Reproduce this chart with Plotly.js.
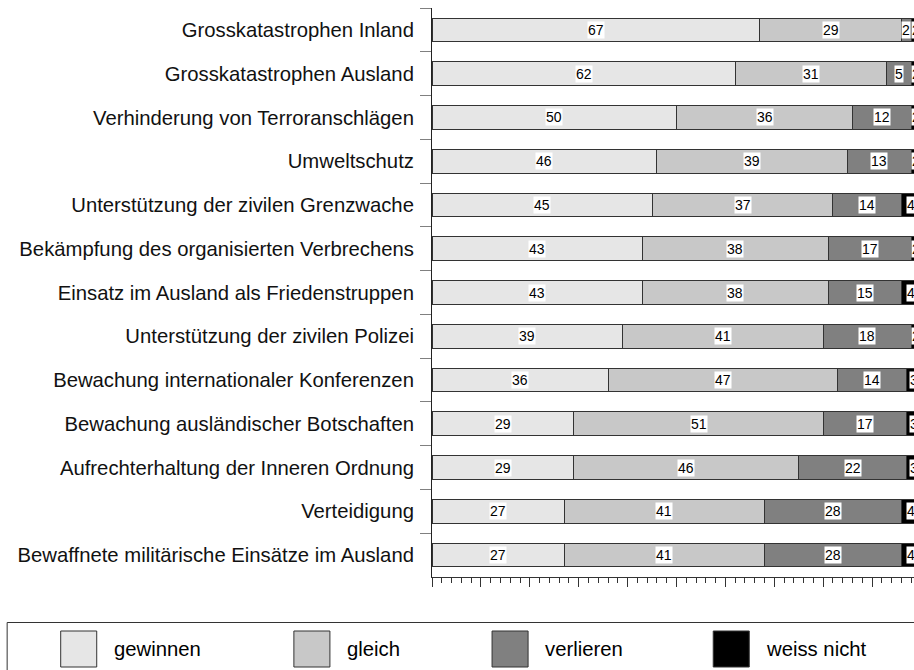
<!DOCTYPE html>
<html>
<head>
<meta charset="utf-8">
<script src="https://cdn.plot.ly/plotly-3.0.1.min.js"></script>
<style>
html, body { margin: 0; padding: 0; overflow: hidden; background: #fff; }
#chart { width: 940px; height: 700px; }
</style>
</head>
<body>
<div id="chart"></div>
<script>
const categories = [
  "Grosskatastrophen Inland",
  "Grosskatastrophen Ausland",
  "Verhinderung von Terroranschlägen",
  "Umweltschutz",
  "Unterstützung der zivilen Grenzwache",
  "Bekämpfung des organisierten Verbrechens",
  "Einsatz im Ausland als Friedenstruppen",
  "Unterstützung der zivilen Polizei",
  "Bewachung internationaler Konferenzen",
  "Bewachung ausländischer Botschaften",
  "Aufrechterhaltung der Inneren Ordnung",
  "Verteidigung",
  "Bewaffnete militärische Einsätze im Ausland"
];
const seriesNames = ["gewinnen", "gleich", "verlieren", "weiss nicht"];
const gewinnen   = [67, 62, 50, 46, 45, 43, 43, 39, 36, 29, 29, 27, 27];
const gleich     = [29, 31, 36, 39, 37, 38, 38, 41, 47, 51, 46, 41, 41];
const verlieren  = [ 2,  5, 12, 13, 14, 17, 15, 18, 14, 17, 22, 28, 28];
const weissNicht = [ 2,  2,  2,  2,  4,  2,  4,  2,  3,  3,  3,  4,  4];
const colors = ["#e6e6e6", "#c8c8c8", "#808080", "#000000"];

const series = [gewinnen, gleich, verlieren, weissNicht];
const FONT = "Liberation Sans, Arial, sans-serif";

const traces = series.map((vals, i) => ({
  type: "bar",
  orientation: "h",
  name: seriesNames[i],
  y: categories,
  x: vals,
  marker: { color: colors[i], line: { color: "#333333", width: 1 } },
  hoverinfo: "skip",
  showlegend: false
}));

// value labels with white background, centred in each segment
const annotations = [];
categories.forEach((cat, r) => {
  let start = 0;
  series.forEach((vals) => {
    const v = vals[r];
    annotations.push({
      x: start + v / 2, y: cat, xref: "x", yref: "y",
      text: String(v), showarrow: false,
      bgcolor: "#ffffff", borderpad: 0,
      font: { family: FONT, size: 14, color: "#000" }
    });
    start += v;
  });
});

// custom legend (pixel geometry converted to paper fractions)
const L = 432, PW = 488.6, T = 8, PH = 569;
const fx = px => (px - L) / PW;
const fy = py => (T + PH - py) / PH;
const shapes = [{
  type: "rect", xref: "paper", yref: "paper",
  x0: fx(7.5), x1: fx(1000), y0: fy(622.5), y1: fy(720),
  line: { color: "#333333", width: 1 }, fillcolor: "rgba(0,0,0,0)"
}];
const swatchX = [61, 294, 492, 713];
seriesNames.forEach((nm, i) => {
  shapes.push({
    type: "rect", xref: "paper", yref: "paper",
    x0: fx(swatchX[i]), x1: fx(swatchX[i] + 36), y0: fy(631), y1: fy(667),
    line: { color: "#333333", width: 1 }, fillcolor: colors[i]
  });
  annotations.push({
    xref: "paper", yref: "paper", x: fx(swatchX[i] + 51), y: fy(649),
    xanchor: "left", yanchor: "middle", text: nm, showarrow: false,
    font: { family: FONT, size: 20.3, color: "#000" }
  });
});

const layout = {
  width: 940, height: 700,
  margin: { l: L, r: 940 - L - PW, t: T, b: 700 - T - PH },
  barmode: "stack",
  bargap: 0.46,
  paper_bgcolor: "#fff", plot_bgcolor: "#fff",
  showlegend: false,
  xaxis: {
    range: [0, 100], showgrid: false, zeroline: false,
    showticklabels: false, ticks: "outside", dtick: 10, tick0: 0,
    ticklen: 9, tickcolor: "#333", tickwidth: 1,
    showline: true, linecolor: "#333", linewidth: 1,
    minor: { dtick: 2, ticks: "outside", ticklen: 5, tickcolor: "#333", tickwidth: 1, showgrid: false }
  },
  yaxis: {
    type: "category", autorange: "reversed",
    tickson: "boundaries", ticks: "outside", ticklen: 11,
    tickcolor: "#808080", tickwidth: 1,
    showline: true, linecolor: "#222", linewidth: 1,
    showgrid: false, zeroline: false,
    ticklabelstandoff: 13,
    tickfont: { family: FONT, size: 20.3, color: "#111" }
  },
  annotations: annotations,
  shapes: shapes,
  font: { family: FONT }
};

Plotly.newPlot("chart", traces, layout, { displayModeBar: false, staticPlot: true });
</script>
</body>
</html>
